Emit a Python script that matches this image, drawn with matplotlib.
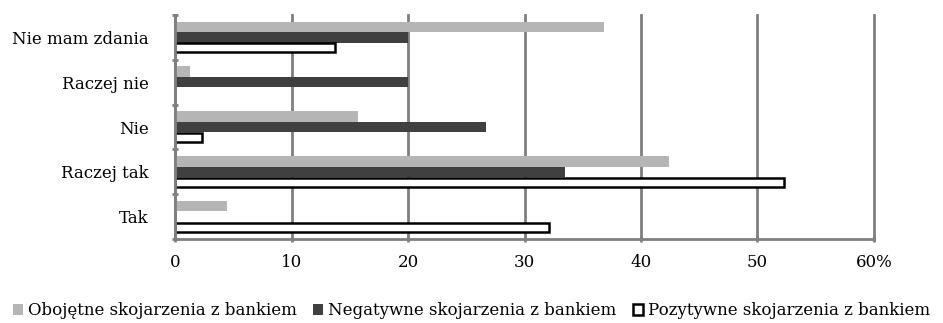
import matplotlib.pyplot as plt
import numpy as np

categories = ['Tak', 'Raczej tak', 'Nie', 'Raczej nie', 'Nie mam zdania']
obojetne = [4.5, 42.4, 15.7, 1.3, 36.8]
negatywne = [0, 33.5, 26.7, 20.0, 20.0]
pozytywne = [32.1, 52.3, 2.3, 0, 13.7]
series_names = ['Obojętne skojarzenia z bankiem',
                'Negatywne skojarzenia z bankiem',
                'Pozytywne skojarzenia z bankiem']
xticks = [0, 10, 20, 30, 40, 50, 60]
xlabels = ['0', '10', '20', '30', '40', '50', '60%']

plt.rcParams['font.family'] = ['DejaVu Serif']
plt.rcParams['font.size'] = 12

fig = plt.figure(figsize=(9.43, 3.23), dpi=100)
ax = fig.add_axes([175/943, 1-239/323, (874-175)/943, 224/323])

y = np.arange(len(categories))
h = 0.235
grey = '#7f7f7f'

ax.set_axisbelow(True)
ax.grid(axis='x', color=grey, linewidth=2)

b1 = ax.barh(y + h, obojetne, height=h, color='#b5b5b5', label=series_names[0])
b2 = ax.barh(y, negatywne, height=h, color='#404040', label=series_names[1])
pz = [v if v > 0 else np.nan for v in pozytywne]
b3 = ax.barh(y - h, pz, height=h*0.85, color='white', edgecolor='black',
             linewidth=1.8, label=series_names[2])

ax.set_xlim(0, 60)
ax.set_ylim(-0.5, 4.5)
ax.set_xticks(xticks)
ax.set_xticklabels(xlabels)
ax.set_yticks(y)
ax.set_yticklabels(categories)
ax.set_yticks(np.arange(-0.5, 5, 1), minor=True)
ax.tick_params(axis='y', which='major', length=0, pad=19)
ax.tick_params(axis='y', which='minor', length=5, width=2, color=grey, direction='inout')
ax.tick_params(axis='x', length=5, width=2, color=grey, direction='inout', pad=8)
for gl in ax.get_xgridlines():
    gl.set_clip_on(False)

for s in ['top', 'right']:
    ax.spines[s].set_visible(False)
for s in ['left', 'bottom']:
    ax.spines[s].set_color(grey)
    ax.spines[s].set_linewidth(2)

fig.legend(handles=[b1, b2, b3], loc='lower center', bbox_to_anchor=(0.5, -0.035),
           ncol=3, frameon=False, handlelength=0.6, handleheight=0.6,
           handletextpad=0.3, columnspacing=1.0)

fig.savefig('out.png', dpi=100)
